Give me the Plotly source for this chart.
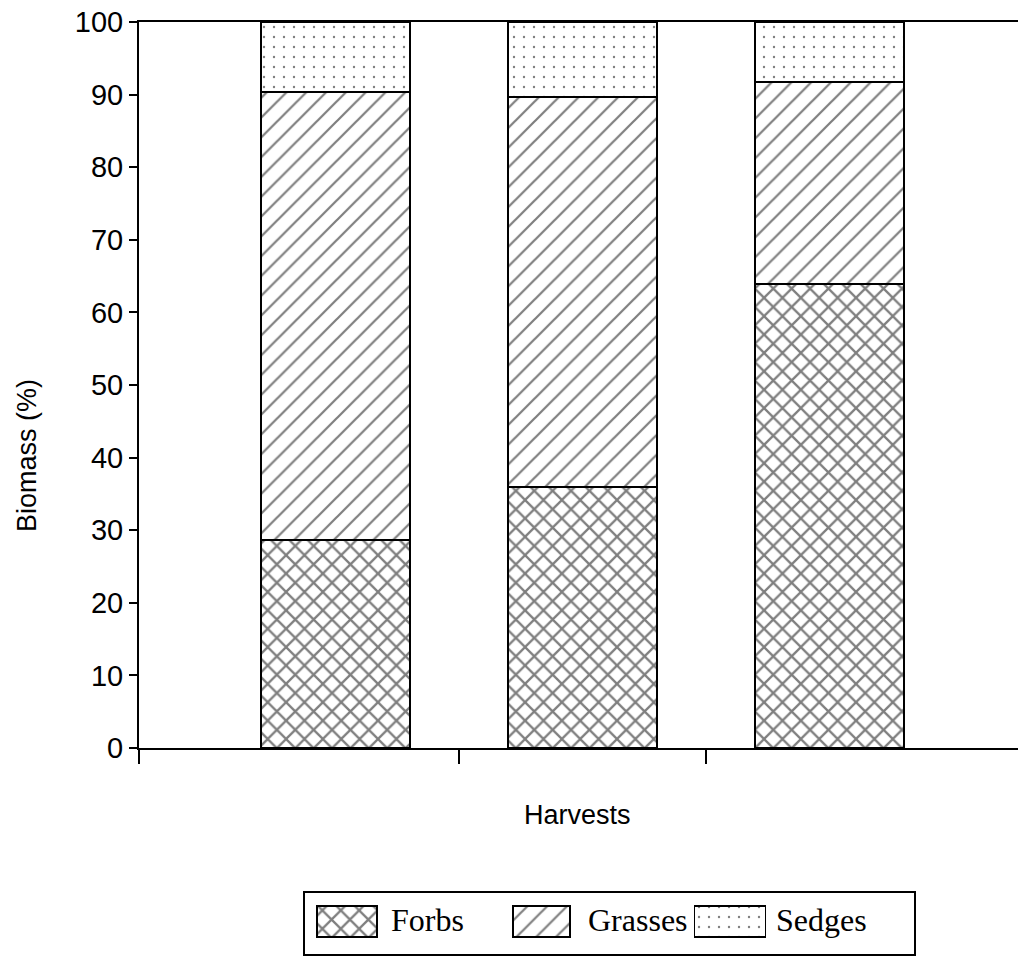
import plotly.graph_objects as go

# Stacked biomass composition per harvest (percent of total)
harvests = [1, 2, 3]
forbs = [28.6, 36.0, 63.9]
grasses = [61.8, 53.7, 27.8]
sedges = [9.6, 10.3, 8.3]
y_ticks = list(range(0, 101, 10))
series_names = ["Forbs", "Grasses", "Sedges"]

W, H = 1018, 958

def px_x(p):
    return p / W

def px_y(p):
    return (H - p) / H

SANS = "Liberation Sans, Arial, Helvetica, sans-serif"
SERIF = "Liberation Serif, Times New Roman, serif"

patterns = {
    "Forbs": dict(shape="x", size=13, solidity=0.32, fgcolor="black", bgcolor="white"),
    "Grasses": dict(shape="/", size=14, solidity=0.16, fgcolor="black", bgcolor="white"),
    "Sedges": dict(shape=".", size=10, solidity=0.045, fgcolor="black", bgcolor="white"),
}

fig = go.Figure()

for name, vals in zip(series_names, [forbs, grasses, sedges]):
    fig.add_trace(go.Bar(
        x=harvests, y=vals, name=name, width=0.6,
        marker=dict(color="white", line=dict(color="black", width=2),
                    pattern=patterns[name]),
        xaxis="x", yaxis="y", showlegend=False,
    ))

# Legend swatches drawn as small patterned bars on their own axes
legend_box = (304, 915, 892, 955)  # left, right, top, bottom in pixels
swatch_x = [347, 541.5, 730]
swatch_w = [60, 57, 71]
label_x = [389, 586, 774]
for name, cx, w in zip(series_names, swatch_x, swatch_w):
    fig.add_trace(go.Bar(
        x=[cx], y=[0.49], base=[0.29], width=[w],
        marker=dict(color="white", line=dict(color="black", width=1.8),
                    pattern=patterns[name]),
        xaxis="x2", yaxis="y2", showlegend=False, hoverinfo="skip",
    ))

x0, x1 = 0.2045, 3.763

fig.update_layout(
    width=W, height=H,
    margin=dict(l=0, r=0, t=0, b=0, autoexpand=False),
    paper_bgcolor="white", plot_bgcolor="white",
    barmode="stack",
    showlegend=False,
    xaxis=dict(
        domain=[px_x(139), 1.0], range=[x0, x1], automargin=False,
        tickmode="array", tickvals=[x0, 1.5, 2.5], ticktext=["", "", ""],
        ticks="outside", ticklen=14, tickwidth=1.5, tickcolor="black",
        showline=True, linecolor="black", linewidth=2, mirror=True,
        showgrid=False, zeroline=False, fixedrange=True,
    ),
    yaxis=dict(
        domain=[px_y(748), px_y(22)], range=[0, 100], automargin=False,
        tickmode="array", tickvals=y_ticks,
        ticks="outside", ticklen=8, tickwidth=1.5, tickcolor="black",
        tickfont=dict(family=SANS, size=29, color="black"),
        showline=True, linecolor="black", linewidth=2,
        showgrid=False, zeroline=False, fixedrange=True,
    ),
    xaxis2=dict(
        domain=[px_x(legend_box[0]), px_x(legend_box[1])],
        range=[legend_box[0], legend_box[1]], anchor="y2",
        visible=False, fixedrange=True, automargin=False,
    ),
    yaxis2=dict(
        domain=[px_y(legend_box[3]), px_y(legend_box[2])],
        range=[0, 1], anchor="x2",
        visible=False, fixedrange=True, automargin=False,
    ),
    shapes=[
        dict(type="rect", xref="paper", yref="paper",
             x0=px_x(legend_box[0]), x1=px_x(legend_box[1]),
             y0=px_y(legend_box[3]), y1=px_y(legend_box[2]),
             line=dict(color="black", width=2), fillcolor="rgba(0,0,0,0)",
             layer="below"),
    ],
    annotations=[
        dict(text="Biomass (%)", textangle=-90, xref="paper", yref="paper",
             x=px_x(27), y=px_y(456), showarrow=False,
             font=dict(family=SANS, size=27, color="black"),
             xanchor="center", yanchor="middle"),
        dict(text="Harvests", xref="paper", yref="paper",
             x=px_x(577), y=px_y(815), showarrow=False,
             font=dict(family=SANS, size=27, color="black"),
             xanchor="center", yanchor="middle"),
    ] + [
        dict(text=name, xref="paper", yref="paper",
             x=px_x(lx), y=px_y(920), showarrow=False,
             font=dict(family=SERIF, size=32, color="black"),
             xanchor="left", yanchor="middle")
        for name, lx in zip(series_names, label_x)
    ],
)

fig.write_html("out.html")
